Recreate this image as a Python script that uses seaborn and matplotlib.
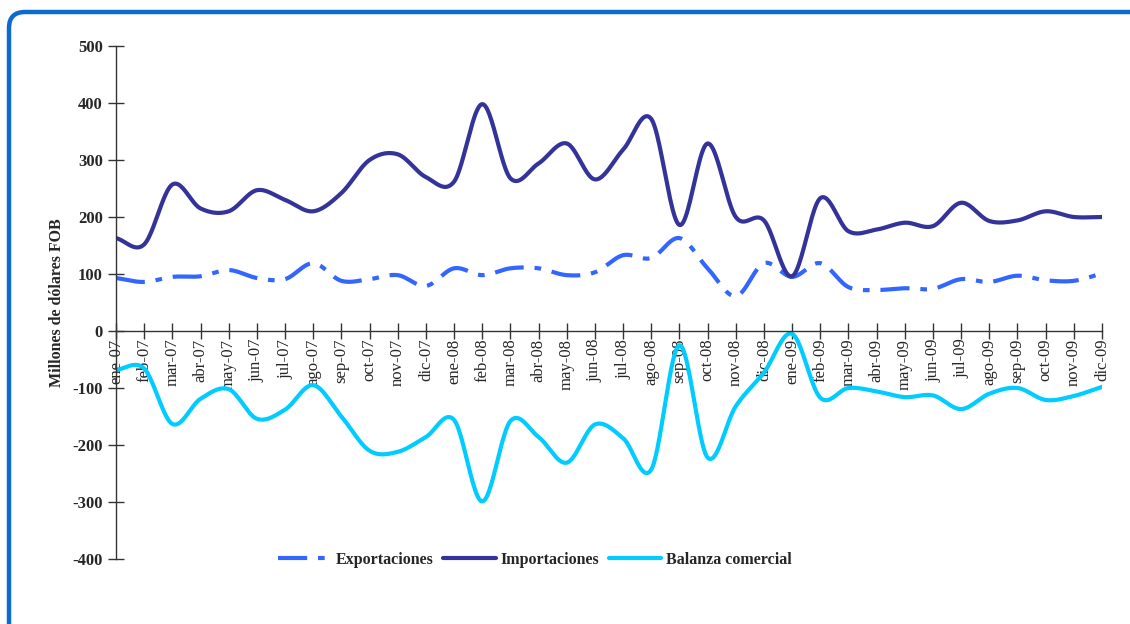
import numpy as np
import pandas as pd
import seaborn as sns
import matplotlib
matplotlib.use("Agg")
import matplotlib.pyplot as plt
from matplotlib.patches import FancyBboxPatch
from matplotlib.transforms import IdentityTransform

meses = ['ene-07', 'feb-07', 'mar-07', 'abr-07', 'may-07', 'jun-07', 'jul-07', 'ago-07',
         'sep-07', 'oct-07', 'nov-07', 'dic-07',
         'ene-08', 'feb-08', 'mar-08', 'abr-08', 'may-08', 'jun-08', 'jul-08', 'ago-08',
         'sep-08', 'oct-08', 'nov-08', 'dic-08',
         'ene-09', 'feb-09', 'mar-09', 'abr-09', 'may-09', 'jun-09', 'jul-09', 'ago-09',
         'sep-09', 'oct-09', 'nov-09', 'dic-09']

exportaciones = [93, 86, 95, 96, 107, 93, 91, 119, 88, 91, 98, 79,
                 110, 98, 110, 110, 98, 103, 133, 128, 163, 110, 61, 119,
                 95, 119, 77, 72, 75, 74, 91, 86, 97, 89, 88, 101]

importaciones = [163, 152, 257, 215, 210, 247, 230, 210, 242, 300, 310, 270,
                 262, 398, 268, 294, 329, 266, 318, 372, 186, 329, 200, 194,
                 96, 233, 175, 178, 190, 184, 225, 193, 194, 210, 200, 200]

balanza = [-68, -66, -163, -119, -102, -154, -138, -95, -150, -210, -212, -186,
           -156, -299, -158, -186, -231, -164, -188, -243, -25, -222, -132, -73,
           -5, -117, -100, -106, -116, -113, -137, -110, -100, -121, -114, -98]

y_ticks = [-400, -300, -200, -100, 0, 100, 200, 300, 400, 500]


def smooth(values, n=24):
    """Catmull-Rom rendering of the monthly points (curve drawing only)."""
    p = np.asarray(values, dtype=float)
    pts = np.concatenate([[2 * p[0] - p[1]], p, [2 * p[-1] - p[-2]]])
    xs, ys = [], []
    for i in range(1, len(pts) - 2):
        p0, p1, p2, p3 = pts[i - 1], pts[i], pts[i + 1], pts[i + 2]
        t = np.linspace(0, 1, n, endpoint=False)
        y = 0.5 * ((2 * p1) + (-p0 + p2) * t + (2 * p0 - 5 * p1 + 4 * p2 - p3) * t ** 2
                   + (-p0 + 3 * p1 - 3 * p2 + p3) * t ** 3)
        xs.extend(i - 1 + t)
        ys.extend(y)
    xs.append(len(p) - 1)
    ys.append(p[-1])
    return np.array(xs), np.array(ys)


sns.set_theme(style="white")
plt.rcParams['font.family'] = ['Liberation Serif', 'DejaVu Serif']

fig = plt.figure(figsize=(11.3, 6.24), dpi=100)
ax = fig.add_axes([116 / 1130, 1 - 559 / 624, (1102 - 116) / 1130, (559 - 46) / 624])

c_exp = '#3366ff'
c_imp = '#333399'
c_bal = '#00ccff'

xe, ye = smooth(exportaciones)
sns.lineplot(x=xe, y=ye, ax=ax, color=c_exp, lw=3, label='Exportaciones', sort=False)
ax.lines[-1].set_dashes((7, 2.6, 1.6, 2.6))
xi, yi = smooth(importaciones)
sns.lineplot(x=xi, y=yi, ax=ax, color=c_imp, lw=3, label='Importaciones', sort=False)
xb, yb = smooth(balanza)
sns.lineplot(x=xb, y=yb, ax=ax, color=c_bal, lw=3, label='Balanza comercial', sort=False)

for s in ['top', 'right']:
    ax.spines[s].set_visible(False)
ax.spines['bottom'].set_position(('data', 0))
for s in ['left', 'bottom']:
    ax.spines[s].set_color('#333333')
    ax.spines[s].set_linewidth(1.0)

ax.set_xlim(0, len(meses) - 1)
ax.set_ylim(-400, 500)
ax.set_yticks(y_ticks)
ax.set_yticklabels([str(v) for v in y_ticks], fontweight='bold', fontsize=12)
ax.set_xticks(range(len(meses)))
ax.set_xticklabels(meses, rotation=90, fontsize=12, va='top', ha='center')

ax.tick_params(axis='both', direction='inout', length=11, width=1.0, color='#333333',
               bottom=True, left=True)
ax.tick_params(axis='x', pad=0)
ax.tick_params(axis='y', pad=4)

ax.set_ylabel('Millones de dólares FOB', fontweight='bold', fontsize=11.5, labelpad=5)
ax.set_xlabel('')
ax.grid(False)

leg = ax.legend(loc='center', bbox_to_anchor=(535 / 1130, 1 - 560 / 624),
                bbox_transform=fig.transFigure, ncol=3, frameon=False,
                handlelength=3.3, handletextpad=0.3, columnspacing=0.6,
                prop={'weight': 'bold', 'size': 11.5})

border = FancyBboxPatch((9, -30), 1160, 624 - 12 + 30,
                        boxstyle='round,pad=0,rounding_size=16',
                        transform=IdentityTransform(), fill=False,
                        edgecolor='#0b6bd0', linewidth=3.2)
fig.add_artist(border)

fig.savefig('out.png', dpi=100, facecolor='white')
